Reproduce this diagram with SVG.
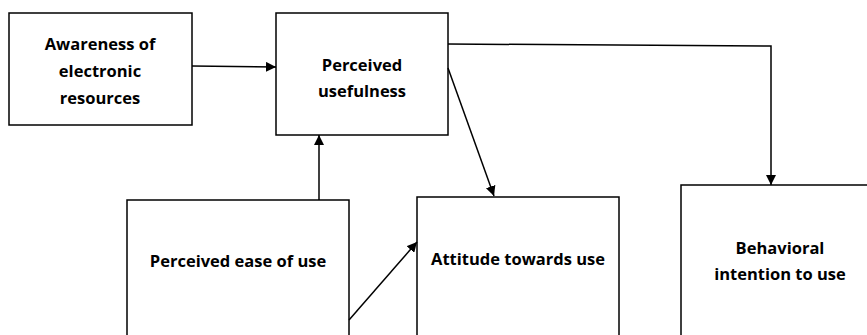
<svg xmlns="http://www.w3.org/2000/svg" width="867" height="335" viewBox="0 0 867 335">
<defs>
<marker id="ah" viewBox="0 0 10 10" refX="10" refY="5" markerWidth="10" markerHeight="10" markerUnits="userSpaceOnUse" orient="auto">
<path d="M0,0 L10,5 L0,10 z" fill="#000"/>
</marker>
<style>
.box{fill:#fff;stroke:#000;stroke-width:1.5}
.t{font-family:"Open Sans","Liberation Sans",sans-serif;font-weight:bold;font-size:16.5px;fill:#000;text-anchor:middle;dominant-baseline:central}
.c{fill:none;stroke:#000;stroke-width:1.5}
</style>
</defs>
<rect width="867" height="335" fill="#fff"/>
<g id="awareness">
<rect class="box" x="9" y="13" width="183" height="112"/>
<text class="t" x="100" y="43">Awareness of</text>
<text class="t" x="100" y="70">electronic</text>
<text class="t" x="100" y="97">resources</text>
</g>
<g id="usefulness">
<rect class="box" x="276" y="13" width="172" height="122"/>
<text class="t" x="362" y="64">Perceived</text>
<text class="t" x="362" y="90">usefulness</text>
</g>
<g id="ease">
<rect class="box" x="127" y="200" width="222" height="145"/>
<text class="t" x="238" y="260">Perceived ease of use</text>
</g>
<g id="attitude">
<rect class="box" x="417" y="197" width="202" height="148"/>
<text class="t" x="518" y="258">Attitude towards use</text>
</g>
<g id="intention">
<rect class="box" x="681" y="185" width="200" height="160"/>
<text class="t" x="780" y="247">Behavioral</text>
<text class="t" x="780" y="273">intention to use</text>
</g>
<g id="connectors">
<line class="c" x1="192" y1="66" x2="276" y2="67" marker-end="url(#ah)"/>
<line class="c" x1="319" y1="200" x2="319" y2="135" marker-end="url(#ah)"/>
<line class="c" x1="448" y1="68" x2="494" y2="196" marker-end="url(#ah)"/>
<line class="c" x1="349" y1="320" x2="417" y2="242" marker-end="url(#ah)"/>
<polyline class="c" points="448,44 771,46 771,185" marker-end="url(#ah)"/>
</g>
</svg>
